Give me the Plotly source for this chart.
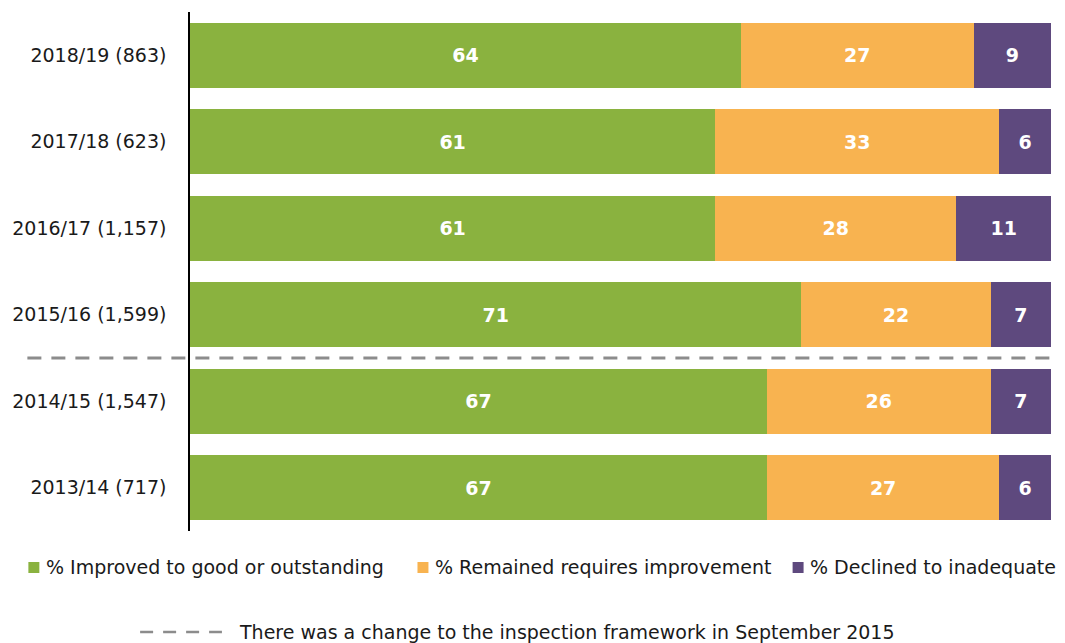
import plotly.graph_objects as go

# Inspection outcomes by year (number of inspections in brackets)
categories = ["2018/19 (863)", "2017/18 (623)", "2016/17 (1,157)",
              "2015/16 (1,599)", "2014/15 (1,547)", "2013/14 (717)"]
improved = [64, 61, 61, 71, 67, 67]
remained = [27, 33, 28, 22, 26, 27]
declined = [9, 6, 11, 7, 7, 6]

series_names = ["% Improved to good or outstanding",
                "% Remained requires improvement",
                "% Declined to inadequate"]
colors = ["#8AB23F", "#F8B350", "#5E497E"]
footnote = "There was a change to the inspection framework in September 2015"

FONT = "Tahoma, 'DejaVu Sans', sans-serif"
TEXT_COLOR = "#1A1A1A"

W, H = 1065, 643
L, R, T, B = 188, 14, 12, 112
PW, PH = W - L - R, H - T - B


def px_x(x):
    return (x - L) / PW


def px_y(y):
    return (H - B - y) / PH


fig = go.Figure()
for name, vals, col in zip(series_names, [improved, remained, declined], colors):
    fig.add_trace(go.Bar(
        y=categories, x=vals, name=name, orientation="h",
        marker=dict(color=col, line=dict(width=0)),
        text=vals, texttemplate="<b>%{text}</b>",
        textposition="inside", insidetextanchor="middle",
        textfont=dict(family=FONT, size=19, color="white"),
        showlegend=False, hoverinfo="skip",
    ))

# Dashed divider marking the framework change
fig.add_shape(type="line", xref="paper", yref="y",
              x0=px_x(25), x1=px_x(1054), y0=3.5, y1=3.5,
              line=dict(color="#8C8C8C", width=3, dash="14px,10px"))

# Legend row: colour swatches with labels
legend_items = [(26, 42), (416, 432), (792, 807)]
for (sx, tx), name, col in zip(legend_items, series_names, colors):
    fig.add_shape(type="rect", xref="paper", yref="paper",
                  x0=px_x(sx), x1=px_x(sx + 11),
                  y0=px_y(573), y1=px_y(562),
                  fillcolor=col, line=dict(width=0))
    fig.add_annotation(xref="paper", yref="paper", x=px_x(tx), y=px_y(567),
                       xanchor="left", yanchor="middle", showarrow=False,
                       text=name, font=dict(family=FONT, size=19, color=TEXT_COLOR))

# Footnote describing the dashed divider
fig.add_shape(type="line", xref="paper", yref="paper",
              x0=px_x(138), x1=px_x(220), y0=px_y(632), y1=px_y(632),
              line=dict(color="#8C8C8C", width=2.5, dash="13px,10px"))
fig.add_annotation(xref="paper", yref="paper", x=px_x(235), y=px_y(632),
                   xanchor="left", yanchor="middle", showarrow=False,
                   text=footnote, font=dict(family=FONT, size=19, color=TEXT_COLOR))

fig.update_layout(
    width=W, height=H, barmode="stack", bargap=0.25,
    margin=dict(l=L, r=R, t=T, b=B, pad=0),
    plot_bgcolor="white", paper_bgcolor="white",
    font=dict(family=FONT, size=19, color=TEXT_COLOR),
    uniformtext=dict(mode="show", minsize=10),
    xaxis=dict(range=[0, 100], visible=False, fixedrange=True),
    yaxis=dict(autorange="reversed", showline=True, linecolor="#000000",
               linewidth=1.5, ticks="", ticklabelstandoff=18,
               tickfont=dict(family=FONT, size=19, color=TEXT_COLOR),
               showgrid=False, fixedrange=True),
)

fig.write_html("out.html")
